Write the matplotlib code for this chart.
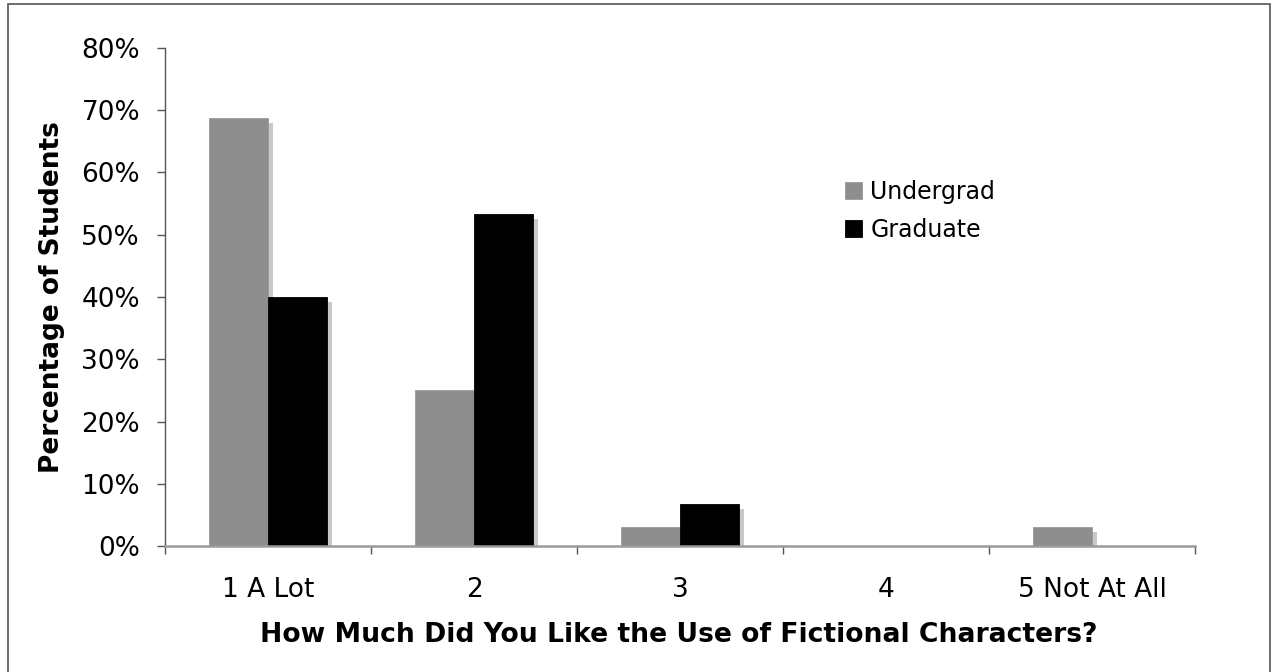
import matplotlib
matplotlib.use("Agg")
import matplotlib.pyplot as plt
import matplotlib.transforms as mtransforms
from matplotlib.patches import Rectangle
from matplotlib.ticker import FixedLocator, PercentFormatter
import numpy as np

categories = ["1 A Lot", "2", "3", "4", "5 Not At All"]
undergrad = [68.75, 25.0, 3.125, 0.0, 3.125]
graduate = [40.0, 53.33, 6.67, 0.0, 0.0]
series_names = ["Undergrad", "Graduate"]
y_ticks = [0, 10, 20, 30, 40, 50, 60, 70, 80]

W, H, DPI = 1273, 672, 100
fig = plt.figure(figsize=(W / DPI, H / DPI), dpi=DPI)
fig.patch.set_facecolor("white")

ax = fig.add_axes([165 / W, 1 - 546 / H, (1195 - 165) / W, (546 - 48) / H])

x = np.arange(len(categories))
bw = 0.286
colors = ["#8e8e8e", "#000000"]
shadow = "#c9c9c9"

# drop shadows shifted right and down by a few pixels
off = mtransforms.ScaledTranslation(5 / DPI, -5 / DPI, fig.dpi_scale_trans)
for vals, dx in ((undergrad, -bw / 2), (graduate, bw / 2)):
    sh = ax.bar(x + dx, vals, bw, color=shadow, linewidth=0, zorder=1)
    for p in sh:
        p.set_transform(ax.transData + off)

bars_u = ax.bar(x - bw / 2, undergrad, bw, color=colors[0], edgecolor="#9a9a9a",
                linewidth=0.6, zorder=2, label=series_names[0])
bars_g = ax.bar(x + bw / 2, graduate, bw, color=colors[1], edgecolor="#000000",
                linewidth=0.6, zorder=3, label=series_names[1])

ax.set_xlim(-0.5, len(categories) - 0.5)
ax.set_ylim(0, 80)

ax.set_yticks(y_ticks)
ax.yaxis.set_major_formatter(PercentFormatter(decimals=0))
ax.set_xticks(x)
ax.set_xticklabels(categories)
ax.xaxis.set_minor_locator(FixedLocator(np.arange(len(categories) + 1) - 0.5))

for s in ("top", "right"):
    ax.spines[s].set_visible(False)
ax.spines["left"].set_color("#555555")
ax.spines["left"].set_linewidth(1.0)
ax.spines["bottom"].set_color("#9a9a9a")
ax.spines["bottom"].set_linewidth(1.8)
ax.spines["bottom"].set_zorder(4)

ax.tick_params(axis="y", which="major", direction="out", length=6, width=1,
               color="#555555", pad=12, labelsize=19)
ax.tick_params(axis="x", which="major", length=0, pad=22, labelsize=19)
ax.tick_params(axis="x", which="minor", direction="out", length=6, width=1,
               color="#555555")

fig.text(52 / W, 1 - 297 / H, "Percentage of Students", rotation=90,
         ha="center", va="center", fontsize=19, fontweight="bold")
fig.text(679 / W, 1 - 642 / H, "How Much Did You Like the Use of Fictional Characters?",
         ha="center", va="baseline", fontsize=19.2, fontweight="bold")

ax.legend(handles=[bars_u, bars_g], loc="upper left",
          bbox_to_anchor=(845 / W, 1 - 180 / H), bbox_transform=fig.transFigure,
          frameon=False, fontsize=17, handlelength=0.72, handleheight=0.72,
          handletextpad=0.35, labelspacing=0.6, borderpad=0, borderaxespad=0)

# outer chart border (its lower edge runs past the bottom of the canvas)
fig.patches.append(Rectangle((8 / W, 1 - 680 / H), (1270 - 8) / W, (680 - 4) / H,
                             transform=fig.transFigure, fill=False,
                             edgecolor="#555555", linewidth=1.2))

fig.savefig("out.png", dpi=DPI)
